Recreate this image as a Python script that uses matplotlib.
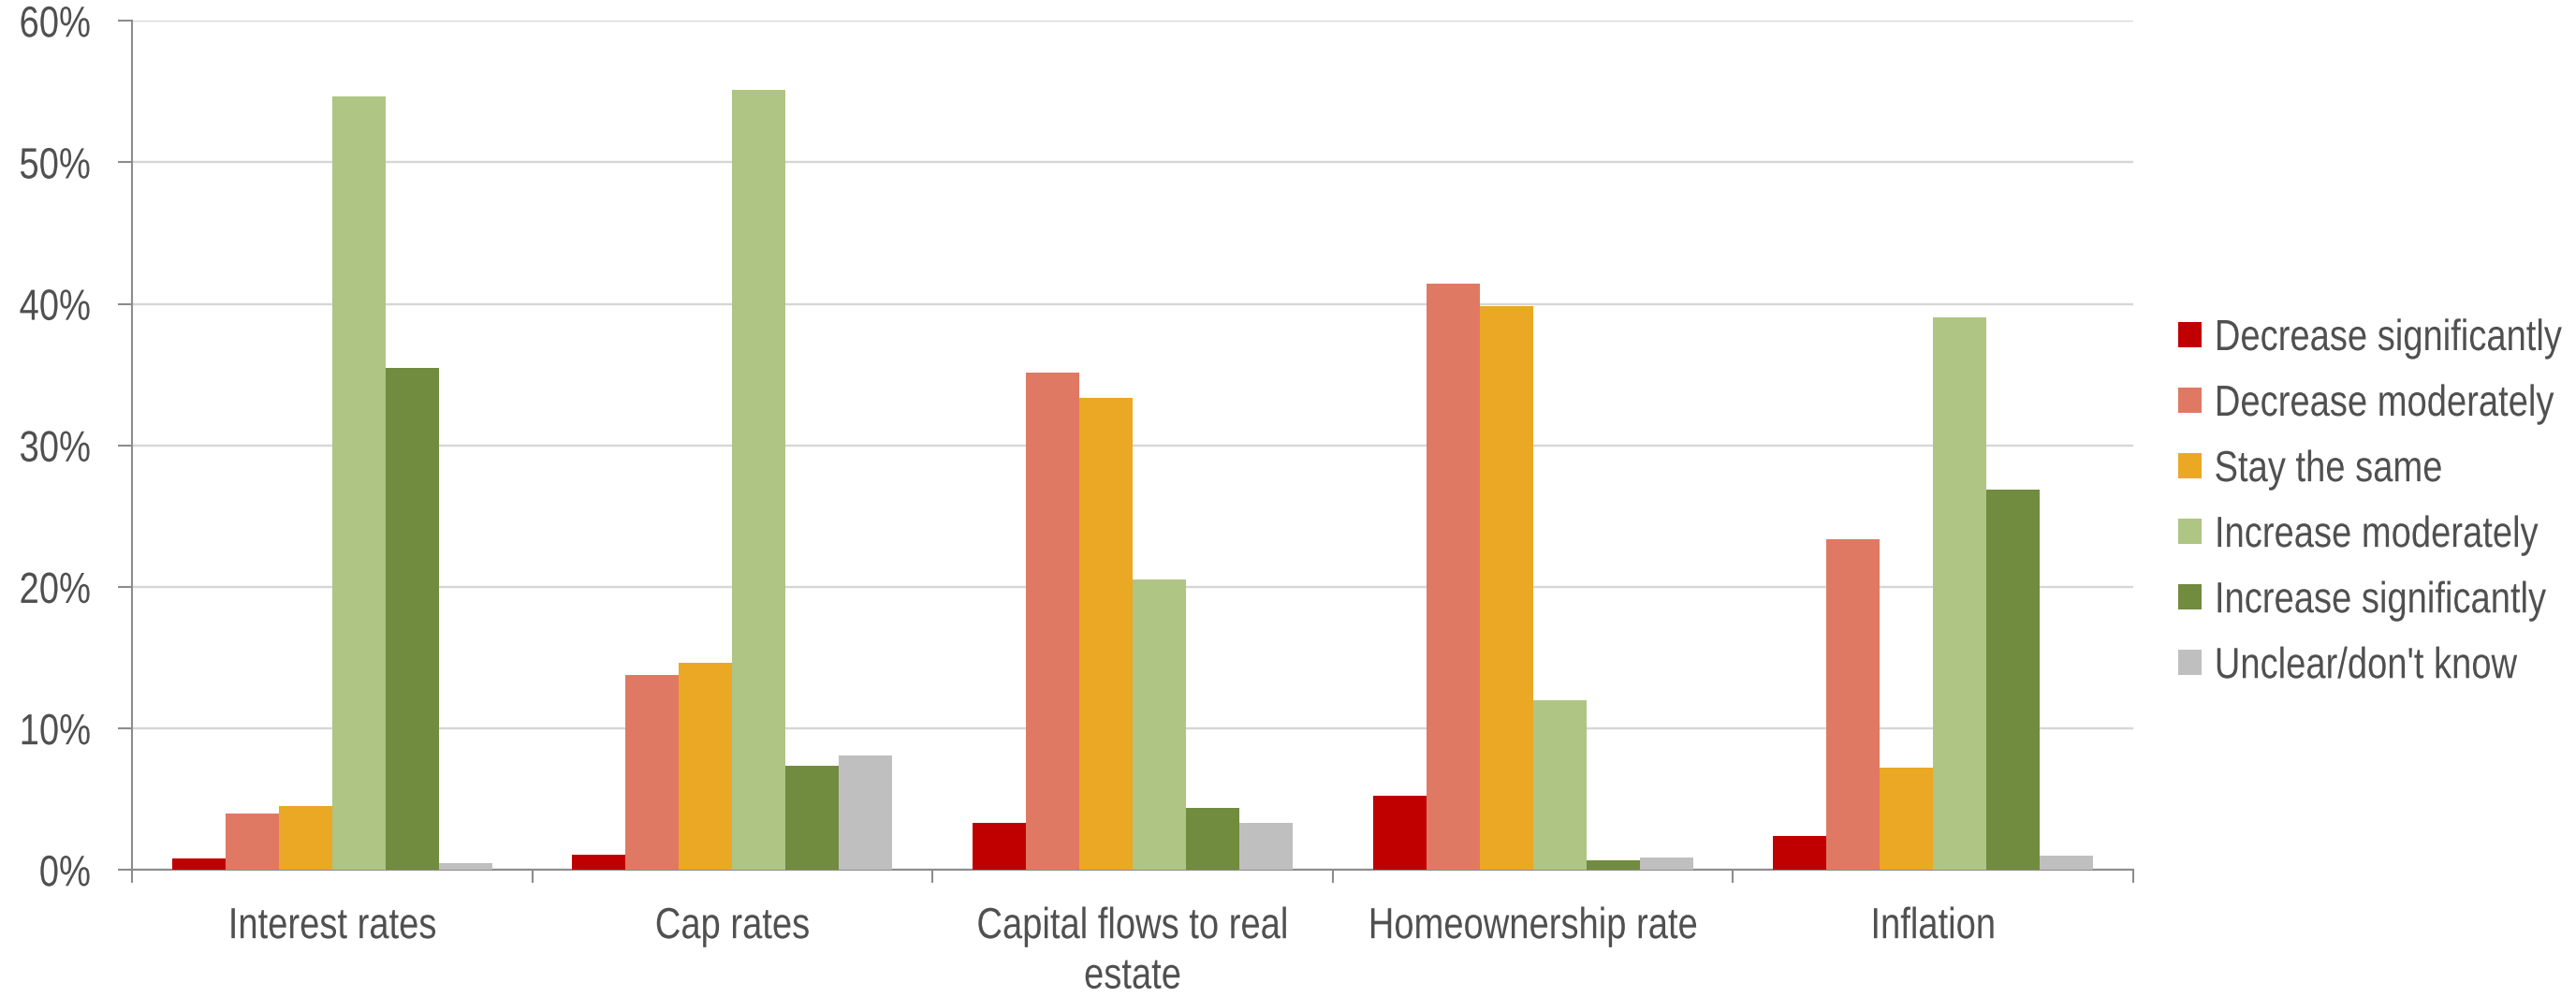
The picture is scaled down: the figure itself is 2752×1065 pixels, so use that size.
import matplotlib
matplotlib.use("Agg")
import matplotlib.pyplot as plt
import numpy as np
from matplotlib.ticker import FixedLocator, PercentFormatter
from matplotlib.patheffects import AbstractPathEffect
from matplotlib.transforms import Affine2D

plt.rcParams['font.family'] = ['Liberation Sans', 'DejaVu Sans']

categories = ["Interest rates", "Cap rates", "Capital flows to real\nestate",
              "Homeownership rate", "Inflation"]
series_names = ["Decrease significantly", "Decrease moderately", "Stay the same",
                "Increase moderately", "Increase significantly", "Unclear/don't know"]
decrease_significantly = [0.83, 1.06, 3.31, 5.25, 2.40]
decrease_moderately = [3.97, 13.76, 35.15, 41.42, 23.37]
stay_the_same = [4.50, 14.62, 33.39, 39.83, 7.25]
increase_moderately = [54.65, 55.13, 20.51, 11.97, 39.05]
increase_significantly = [35.46, 7.38, 4.37, 0.66, 26.86]
unclear = [0.48, 8.09, 3.31, 0.88, 1.01]
y_ticks = [0, 10, 20, 30, 40, 50, 60]

series = [decrease_significantly, decrease_moderately, stay_the_same,
          increase_moderately, increase_significantly, unclear]
colors = ["#C00000", "#E07964", "#EAA824", "#AFC584", "#718B3F", "#BFBFBF"]

text_color = "#505050"
axis_color = "#8C8C8C"
fs = 33.5
SX = 0.82  # horizontal condensing to imitate a narrow typeface


class Condense(AbstractPathEffect):
    """Squeeze text horizontally about its left/center/right edge."""
    def __init__(self, sx=SX, anchor="center"):
        super().__init__()
        self.sx = sx
        self.anchor = anchor

    def draw_path(self, renderer, gc, tpath, affine, rgbFace=None):
        ext = affine.transform_path(tpath).get_extents()
        if self.anchor == "left":
            x0 = ext.x0
        elif self.anchor == "right":
            x0 = ext.x1
        else:
            x0 = 0.5 * (ext.x0 + ext.x1)
        new_affine = affine + Affine2D().translate(-x0, 0).scale(self.sx, 1).translate(x0, 0)
        renderer.draw_path(gc, tpath, new_affine, rgbFace)


W, H = 2752, 1065
fig = plt.figure(figsize=(W / 100, H / 100), dpi=100)
ax = fig.add_axes([141 / W, 1 - 929.3 / H, (2279 - 141) / W, (929.3 - 22.3) / H])

x = np.arange(len(categories))
n = len(series)
group = 0.8
bw = group / n
for i, (vals, c, name) in enumerate(zip(series, colors, series_names)):
    ax.bar(x + (i - (n - 1) / 2) * bw, vals, width=bw, color=c, label=name,
           edgecolor="none", zorder=3)

ax.set_xlim(-0.5, len(categories) - 0.5)
ax.set_ylim(0, 60)
ax.set_yticks(y_ticks)
ax.yaxis.set_major_formatter(PercentFormatter(decimals=0))
ax.grid(axis="y", color="#D6D6D6", linewidth=1.7, zorder=0)
ax.set_axisbelow(True)

ax.set_xticks(x)
ax.set_xticklabels(categories, fontsize=fs, color=text_color, linespacing=1.28)
ax.xaxis.set_minor_locator(FixedLocator(np.arange(-0.5, len(categories), 1.0)))
ax.tick_params(axis="x", which="major", length=0, pad=28)
ax.tick_params(axis="x", which="minor", length=10, width=1.5, color=axis_color, direction="out")
ax.tick_params(axis="y", which="major", length=10.5, width=1.5, color=axis_color,
               direction="out", labelsize=fs, labelcolor=text_color, pad=21)

for t in ax.get_xticklabels():
    t.set_path_effects([Condense(anchor="center")])
for t in ax.get_yticklabels():
    t.set_path_effects([Condense(anchor="right")])

for s in ["top", "right"]:
    ax.spines[s].set_visible(False)
for s in ["left", "bottom"]:
    ax.spines[s].set_color(axis_color)
    ax.spines[s].set_linewidth(1.5)

leg = ax.legend(loc="upper left", bbox_to_anchor=(2327 / W, 1 - 340 / H),
                bbox_transform=fig.transFigure, frameon=False, fontsize=fs,
                handlelength=0.54, handleheight=0.52, handletextpad=0.28,
                labelspacing=0.56, borderpad=0, borderaxespad=0)
for t in leg.get_texts():
    t.set_color(text_color)
    t.set_path_effects([Condense(anchor="left")])

fig.savefig("out.png", dpi=100, facecolor="white")
